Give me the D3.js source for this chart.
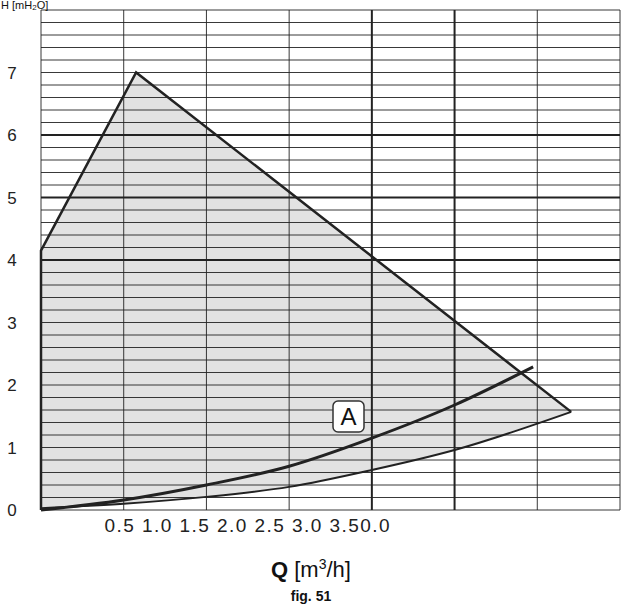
<!DOCTYPE html><html><head><meta charset="utf-8"><script src="https://cdn.jsdelivr.net/npm/d3@7"></script>
<style>body{margin:0;background:#fff}text{font-family:Arial,"Liberation Sans",sans-serif}</style></head><body>
<svg id="c" width="623" height="606"></svg>
<script>
const yTicks=[0,1,2,3,4,5,6,7];
const xTickText="0.5 1.0 1.5 2.0 2.5 3.0 3.50.0";
const areaX=[0,0,1.15,6.41,5,4,3,2,1,0];
const areaY=[0,4.15,7.0,1.57,0.96,0.64,0.37,0.21,0.1,0.03];
const curveAX=[0,1,2,3,4,5,5.95];
const curveAY=[0,0.16,0.4,0.7,1.15,1.68,2.29];
const lowX=[0,1,2,3,4,5,6.41];
const lowY=[0.03,0.1,0.21,0.37,0.64,0.96,1.57];
const svg=d3.select("#c");
const x=d3.scaleLinear().domain([0,7]).range([41,620]);
const y=d3.scaleLinear().domain([0,8]).range([510,10]);
svg.append("path").attr("d",d3.line().x(d=>x(d[0])).y(d=>y(d[1]))(areaX.map((v,i)=>[v,areaY[i]]))+"Z").attr("fill","#e2e2e2");
const g=svg.append("g");
d3.range(0,8.001,0.2).forEach(v=>{const r=Math.round(v*10)/10;const thick=[4,5,6].includes(r);
 g.append("line").attr("x1",x(0)).attr("x2",x(7)).attr("y1",y(r)).attr("y2",y(r)).attr("stroke","#222").attr("stroke-width",thick?2:0.9);});
d3.range(0,8).forEach(v=>{const thick=v==4||v==5;
 g.append("line").attr("x1",x(v)).attr("x2",x(v)).attr("y1",y(0)).attr("y2",y(8)).attr("stroke","#222").attr("stroke-width",thick?2:0.9);});
const ln=d3.line().x(d=>x(d[0])).y(d=>y(d[1]));
svg.append("path").attr("d",ln([[0,0],[0,4.15],[1.15,7],[6.41,1.57]])).attr("fill","none").attr("stroke","#222").attr("stroke-width",2.5);
const cl=d3.line().x(d=>x(d[0])).y(d=>y(d[1])).curve(d3.curveMonotoneX);
svg.append("path").attr("d",cl(lowX.map((v,i)=>[v,lowY[i]]))).attr("fill","none").attr("stroke","#222").attr("stroke-width",2);
svg.append("path").attr("d",cl(curveAX.map((v,i)=>[v,curveAY[i]]))).attr("fill","none").attr("stroke","#222").attr("stroke-width",3);
yTicks.forEach(t=>svg.append("text").attr("x",12).attr("y",y(t)+6).attr("text-anchor","middle").attr("font-size",17).attr("fill","#222").text(t));
svg.append("text").attr("x",247).attr("y",532).attr("text-anchor","middle").attr("font-size",19).attr("textLength",285).attr("fill","#222").text(xTickText);
svg.append("rect").attr("x",333).attr("y",401).attr("width",31).attr("height",31).attr("rx",5).attr("fill","#fff").attr("stroke","#333").attr("stroke-width",1.5);
svg.append("text").attr("x",348.5).attr("y",425).attr("text-anchor","middle").attr("font-size",24).attr("fill","#111").text("A");
const q=svg.append("text").attr("x",311).attr("y",577).attr("text-anchor","middle").attr("font-size",22).attr("fill","#111");
q.append("tspan").attr("font-weight","bold").text("Q");q.append("tspan").text(" [m");
q.append("tspan").attr("font-size",14).attr("dy",-8).text("3");q.append("tspan").attr("dy",8).text("/h]");
svg.append("text").attr("x",311).attr("y",601).attr("text-anchor","middle").attr("font-size",14).attr("font-weight","bold").attr("fill","#111").text("fig. 51");
const h=svg.append("text").attr("x",1).attr("y",9).attr("font-size",11).attr("fill","#111");
h.append("tspan").text("H [mH");h.append("tspan").attr("font-size",8).attr("dy",1).text("2");h.append("tspan").attr("dy",-1).text("O]");
</script></body></html>
